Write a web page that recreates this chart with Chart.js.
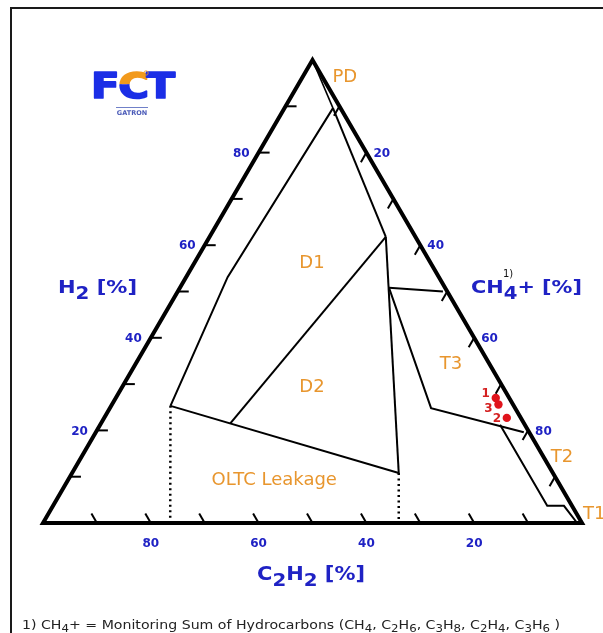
<!DOCTYPE html>
<html><head><meta charset="utf-8">
<script src="https://cdn.jsdelivr.net/npm/chart.js@4.4.0/dist/chart.umd.min.js"></script>
<style>html,body{margin:0;padding:0;background:#fff;overflow:hidden}#wrap{position:relative;width:603px;height:633px}</style>
</head><body><div id="wrap"><canvas id="c" width="603" height="633"></canvas></div>
<script>
// Ternary compositions as [H2, C2H2, CH4+] in %
const sampleLabels = ['1', '2', '3'];
const sampleH2   = [27.0, 22.7, 25.6];
const sampleC2H2 = [2.5, 2.6, 2.7];
const sampleCH4  = [70.5, 74.7, 71.7];

const tickLabelValues = [20, 40, 60, 80];
const tickMarkValues = [10, 20, 30, 40, 50, 60, 70, 80, 90];

const triangleCorners = [[0, 100, 0], [0, 0, 100], [100, 0, 0], [0, 100, 0], [0, 0, 100]];
const zonePD      = [[100, 0, 0], [89.6, 1.4, 9.0]];
const zoneD1Left  = [[89.6, 1.4, 9.0], [53.1, 39.2, 7.7], [25.3, 63.7, 11.0]];
const zoneD1Right = [[89.6, 1.4, 9.0], [61.8, 5.5, 32.7]];
const zoneD1D2    = [[61.8, 5.5, 32.7], [21.5, 54.5, 24.0]];
const zoneD2Right = [[61.8, 5.5, 32.7], [10.8, 28.6, 60.6]];
const zoneOLTC    = [[25.3, 63.7, 11.0], [10.8, 28.6, 60.6]];
const zoneT3Top   = [[50.8, 10.4, 38.8], [50.0, 0.8, 49.2]];
const zoneT3      = [[50.8, 10.4, 38.8], [24.8, 15.6, 59.6], [19.6, 1.0, 79.4]];
const zoneT2      = [[21.2, 4.6, 74.2], [3.7, 4.6, 91.7], [3.7, 1.5, 94.8], [0, 0.9, 99.1]];
const dottedLeft  = [[25.3, 63.7, 11.0], [0, 76.4, 23.6]];
const dottedRight = [[10.8, 28.6, 60.6], [0, 34.0, 66.0]];

const zoneNames = ['PD', 'D1', 'D2', 'T3', 'T2', 'T1', 'OLTC Leakage'];

const SQ3 = Math.sqrt(3) / 2;
function tern(p) {
  const s = p[0] + p[1] + p[2];
  const h = p[0] / s * 100, m = p[2] / s * 100;
  return { x: m + h / 2, y: h * SQ3 };
}
function lineDs(pts, w, dash, order) {
  return {
    data: pts.map(tern), showLine: true, borderColor: '#000', backgroundColor: '#000',
    borderWidth: w, pointRadius: 0, pointHoverRadius: 0, borderDash: dash || [],
    borderJoinStyle: 'miter', borderCapStyle: 'butt', tension: 0, clip: false, order: order
  };
}

const BLUE = '#1f22c4', ORANGE = '#e8962e', RED = '#e0141c';
const FAM = '"DejaVu Sans", Verdana, sans-serif';

function rich(ctx, runs, x, y, o) {
  const weight = o.weight || 'bold';
  const widths = runs.map(r => { ctx.font = `${weight} ${r[1]}px ${FAM}`; return ctx.measureText(r[0]).width; });
  const total = widths.reduce((a, b) => a + b, 0);
  const sx = o.width ? o.width / total : 1;
  const start = o.align === 'center' ? x - total * sx / 2 : (o.align === 'right' ? x - total * sx : x);
  ctx.save();
  ctx.translate(start, y); ctx.scale(sx, 1);
  ctx.textBaseline = 'alphabetic'; ctx.textAlign = 'left';
  let cx = 0;
  runs.forEach((r, i) => {
    ctx.font = `${weight} ${r[1]}px ${FAM}`;
    ctx.fillStyle = r[3] || o.color;
    ctx.fillText(r[0], cx, r[2] || 0);
    cx += widths[i];
  });
  ctx.restore();
}

const zonePlacement = [
  [56.0, 83.4, 'center'], [49.9, 48.6, 'center'], [49.9, 25.4, 'center'],
  [75.7, 29.7, 'center'], [96.3, 12.2, 'center'], [100.2, 1.6, 'left'], [42.9, 7.9, 'center']
];
const sampleLabelOffset = [[-10, -4], [-10, 1], [-10, 4]];

const decor = {
  id: 'decor',
  beforeDatasetsDraw(chart) {
    const ctx = chart.ctx, xs = chart.scales.x, ys = chart.scales.y;
    const px = p => { const q = tern(p); return [xs.getPixelForValue(q.x), ys.getPixelForValue(q.y)]; };
    const L = 11;
    ctx.save();
    ctx.strokeStyle = '#000'; ctx.lineWidth = 2; ctx.lineCap = 'butt';
    const seg = (a, b, c, d) => { ctx.beginPath(); ctx.moveTo(a, b); ctx.lineTo(c, d); ctx.stroke(); };
    tickMarkValues.forEach(v => {
      let [bx, by] = px([0, v, 100 - v]); seg(bx, by, bx - 0.5 * L, by - SQ3 * L);
      let [lx, ly] = px([v, 100 - v, 0]); seg(lx, ly, lx + L, ly);
      let [rx, ry] = px([100 - v, 0, v]); seg(rx, ry, rx - 0.5 * L, ry + SQ3 * L);
    });
    ctx.restore();
  },
  afterDraw(chart) {
    const ctx = chart.ctx, xs = chart.scales.x, ys = chart.scales.y;
    const px = p => { const q = tern(p); return [xs.getPixelForValue(q.x), ys.getPixelForValue(q.y)]; };
    ctx.save();
    // frame
    ctx.strokeStyle = '#1a1a1a'; ctx.lineWidth = 2;
    ctx.strokeRect(11, 8, 640, 680);

    // tick labels
    ctx.fillStyle = BLUE; ctx.font = `bold 12px ${FAM}`;
    tickLabelValues.forEach(v => {
      let [bx, by] = px([0, v, 100 - v]);
      ctx.textAlign = 'center'; ctx.textBaseline = 'middle'; ctx.fillText(String(v), bx, by + 21);
      let [lx, ly] = px([v, 100 - v, 0]);
      ctx.textAlign = 'right'; ctx.fillText(String(v), lx - 9, ly + 1);
      let [rx, ry] = px([100 - v, 0, v]);
      ctx.textAlign = 'left'; ctx.fillText(String(v), rx + 7, ry + 1);
    });

    // axis titles
    rich(ctx, [['H', 18], ['2', 17, 6], [' [%]', 18]], 58, 293, { color: BLUE, width: 79 });
    rich(ctx, [['CH', 18], ['4', 17, 6], ['+ [%]', 18]], 471, 293, { color: BLUE, width: 111 });
    ctx.fillStyle = '#111'; ctx.font = `10px ${FAM}`; ctx.textAlign = 'left'; ctx.textBaseline = 'alphabetic';
    ctx.fillText('1)', 503, 277);
    rich(ctx, [['C', 19], ['2', 18, 6], ['H', 19], ['2', 18, 6], [' [%]', 19]], 257, 580, { color: BLUE, width: 108 });

    // zone names
    ctx.fillStyle = ORANGE; ctx.font = `18px ${FAM}`; ctx.textBaseline = 'middle';
    zoneNames.forEach((n, i) => {
      const z = zonePlacement[i];
      ctx.textAlign = z[2];
      ctx.fillText(n, xs.getPixelForValue(z[0]), ys.getPixelForValue(z[1]));
    });

    // sample labels
    ctx.fillStyle = '#d42020'; ctx.font = `bold 12px ${FAM}`; ctx.textAlign = 'center'; ctx.textBaseline = 'middle';
    sampleLabels.forEach((t, i) => {
      const q = tern([sampleH2[i], sampleC2H2[i], sampleCH4[i]]);
      ctx.fillText(t, xs.getPixelForValue(q.x) + sampleLabelOffset[i][0], ys.getPixelForValue(q.y) + sampleLabelOffset[i][1]);
    });

    // footnote
    const fn = [['1) CH', 12], ['4', 10, 3], ['+ = Monitoring Sum of Hydrocarbons (CH', 12], ['4', 10, 3],
      [', C', 12], ['2', 10, 3], ['H', 12], ['6', 10, 3], [', C', 12], ['3', 10, 3], ['H', 12], ['8', 10, 3],
      [', C', 12], ['2', 10, 3], ['H', 12], ['4', 10, 3], [', C', 12], ['3', 10, 3], ['H', 12], ['6', 10, 3], [' )', 12]];
    rich(ctx, fn, 22, 629, { color: '#222', weight: 'normal', width: 538 });

    // logo
    ctx.save();
    ctx.translate(91, 98); ctx.scale(1.27, 1.05);
    ctx.font = `900 33px ${FAM}`; ctx.textBaseline = 'alphabetic'; ctx.textAlign = 'left';
    ctx.lineJoin = 'round';
    const wF = ctx.measureText('F').width, wC = ctx.measureText('C').width;
    const ink = (t, x, col) => { ctx.fillStyle = col; ctx.strokeStyle = col; ctx.lineWidth = 1.6; ctx.fillText(t, x, 0); ctx.strokeText(t, x, 0); };
    ink('F', 0, '#1b2ee6');
    ctx.save(); ctx.beginPath(); ctx.rect(wF - 3, -40, wC + 6, 27); ctx.clip();
    ink('C', wF - 1, '#f29a1c'); ctx.restore();
    ctx.save(); ctx.beginPath(); ctx.rect(wF - 3, -13, wC + 6, 20); ctx.clip();
    ink('C', wF - 1, '#1b2ee6'); ctx.restore();
    ink('T', wF + wC - 3, '#1b2ee6');
    ctx.restore();
    ctx.strokeStyle = '#f29a1c'; ctx.lineWidth = 0.8;
    ctx.beginPath(); ctx.arc(146, 73, 2.2, 0, Math.PI * 2); ctx.stroke();
    ctx.strokeStyle = '#7080c8'; ctx.lineWidth = 1;
    ctx.beginPath(); ctx.moveTo(116, 107.5); ctx.lineTo(148, 107.5); ctx.stroke();
    ctx.fillStyle = '#4a5ab8'; ctx.font = `bold 6.5px ${FAM}`; ctx.textAlign = 'center'; ctx.textBaseline = 'alphabetic';
    ctx.fillText('GATRON', 132, 115);
    ctx.restore();
  }
};

const datasets = [
  {
    data: sampleH2.map((h, i) => tern([h, sampleC2H2[i], sampleCH4[i]])),
    showLine: false, pointRadius: 4.2, pointHoverRadius: 4.2, backgroundColor: RED, borderColor: RED,
    borderWidth: 0, clip: false, order: -1
  },
  lineDs(triangleCorners, 4, null, 0),
  lineDs(zonePD, 1.6, null, 2),
  lineDs(zoneD1Left, 2, null, 2),
  lineDs(zoneD1Right, 2, null, 2),
  lineDs(zoneD1D2, 2, null, 2),
  lineDs(zoneD2Right, 2, null, 2),
  lineDs(zoneOLTC, 2, null, 2),
  lineDs(zoneT3Top, 2, null, 2),
  lineDs(zoneT3, 2, null, 2),
  lineDs(zoneT2, 2, null, 2),
  lineDs(dottedLeft, 2.5, [2, 3.5], 2),
  lineDs(dottedRight, 2.5, [2, 3.5], 2)
];

new Chart(document.getElementById('c'), {
  type: 'scatter',
  data: { datasets },
  options: {
    responsive: false, animation: false, events: [],
    layout: { padding: { left: 43, right: 21, top: 60, bottom: 110 } },
    plugins: { legend: { display: false }, tooltip: { enabled: false } },
    scales: {
      x: { type: 'linear', min: 0, max: 100, display: false },
      y: { type: 'linear', min: 0, max: 100 * SQ3, display: false }
    }
  },
  plugins: [decor]
});
</script>
</body></html>
